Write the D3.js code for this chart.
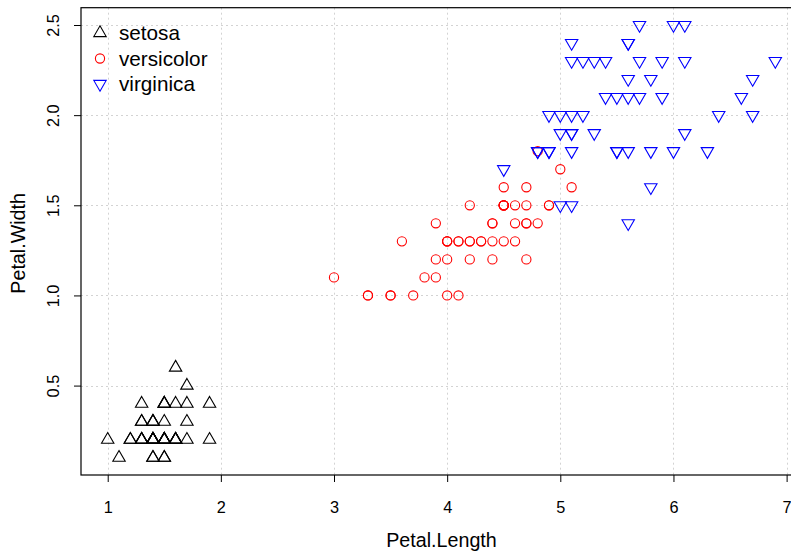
<!DOCTYPE html>
<html>
  <head>
    <style>
      html,
      body {
        margin: 0;
        padding: 0;
        background: #fff;
      }
      svg {
        display: block;
        font-family: 'Liberation Sans', Arial, Helvetica, sans-serif;
      }
    </style>
  </head>
  <body>
    <svg width="791" height="552"></svg>
    <script src="https://cdn.jsdelivr.net/npm/d3@7/dist/d3.min.js"></script>
    <script>
      // iris: Petal.Length / Petal.Width, per species
      const setosaLength = [1.4, 1.4, 1.3, 1.5, 1.4, 1.7, 1.4, 1.5, 1.4, 1.5, 1.5, 1.6, 1.4, 1.1, 1.2, 1.5, 1.3, 1.4, 1.7, 1.5, 1.7, 1.5, 1.0, 1.7, 1.9, 1.6, 1.6, 1.5, 1.4, 1.6, 1.6, 1.5, 1.5, 1.4, 1.5, 1.2, 1.3, 1.4, 1.3, 1.5, 1.3, 1.3, 1.3, 1.6, 1.9, 1.4, 1.6, 1.4, 1.5, 1.4];
      const setosaWidth = [0.2, 0.2, 0.2, 0.2, 0.2, 0.4, 0.3, 0.2, 0.2, 0.1, 0.2, 0.2, 0.1, 0.1, 0.2, 0.4, 0.4, 0.3, 0.3, 0.3, 0.2, 0.4, 0.2, 0.5, 0.2, 0.2, 0.4, 0.2, 0.2, 0.2, 0.2, 0.4, 0.1, 0.2, 0.2, 0.2, 0.2, 0.1, 0.2, 0.2, 0.3, 0.3, 0.2, 0.6, 0.4, 0.3, 0.2, 0.2, 0.2, 0.2];
      const versicolorLength = [4.7, 4.5, 4.9, 4.0, 4.6, 4.5, 4.7, 3.3, 4.6, 3.9, 3.5, 4.2, 4.0, 4.7, 3.6, 4.4, 4.5, 4.1, 4.5, 3.9, 4.8, 4.0, 4.9, 4.7, 4.3, 4.4, 4.8, 5.0, 4.5, 3.5, 3.8, 3.7, 3.9, 5.1, 4.5, 4.5, 4.7, 4.4, 4.1, 4.0, 4.4, 4.6, 4.0, 3.3, 4.2, 4.2, 4.2, 4.3, 3.0, 4.1];
      const versicolorWidth = [1.4, 1.5, 1.5, 1.3, 1.5, 1.3, 1.6, 1.0, 1.3, 1.4, 1.0, 1.5, 1.0, 1.4, 1.3, 1.4, 1.5, 1.0, 1.5, 1.1, 1.8, 1.3, 1.5, 1.2, 1.3, 1.4, 1.4, 1.7, 1.5, 1.0, 1.1, 1.0, 1.2, 1.6, 1.5, 1.6, 1.5, 1.3, 1.3, 1.3, 1.2, 1.4, 1.2, 1.0, 1.3, 1.2, 1.3, 1.3, 1.1, 1.3];
      const virginicaLength = [6.0, 5.1, 5.9, 5.6, 5.8, 6.6, 4.5, 6.3, 5.8, 6.1, 5.1, 5.3, 5.5, 5.0, 5.1, 5.3, 5.5, 6.7, 6.9, 5.0, 5.7, 4.9, 6.7, 4.9, 5.7, 6.0, 4.8, 4.9, 5.6, 5.8, 6.1, 6.4, 5.6, 5.1, 5.6, 6.1, 5.6, 5.5, 4.8, 5.4, 5.6, 5.1, 5.1, 5.9, 5.7, 5.2, 5.0, 5.2, 5.4, 5.1];
      const virginicaWidth = [2.5, 1.9, 2.1, 1.8, 2.2, 2.1, 1.7, 1.8, 1.8, 2.5, 2.0, 1.9, 2.1, 2.0, 2.4, 2.3, 1.8, 2.2, 2.3, 1.5, 2.3, 2.0, 2.0, 1.8, 2.1, 1.8, 1.8, 1.8, 2.1, 1.6, 1.9, 2.0, 2.2, 1.5, 1.4, 2.3, 2.4, 1.8, 1.8, 2.1, 2.4, 2.3, 1.9, 2.3, 2.5, 2.3, 1.9, 2.0, 2.3, 1.8];

      const speciesNames = ['setosa', 'versicolor', 'virginica'];
      const speciesColors = ['#000000', '#FF0000', '#0000FF'];
      const xTicks = [1, 2, 3, 4, 5, 6, 7];
      const yTicks = [0.5, 1.0, 1.5, 2.0, 2.5];

      const svg = d3.select('svg');

      const plotL = 81, plotR = 802, plotT = 7.7, plotB = 475;
      // R pads the data range by 4% on each side
      const x = d3.scaleLinear().domain([0.764, 7.136]).range([plotL, plotR]);
      const y = d3.scaleLinear().domain([0.004, 2.596]).range([plotB, plotT]);

      const series = [
        { lens: setosaLength, wids: setosaWidth },
        { lens: versicolorLength, wids: versicolorWidth },
        { lens: virginicaLength, wids: virginicaWidth },
      ];

      // grid
      const grid = svg.append('g')
        .attr('stroke', '#D3D3D3')
        .attr('stroke-dasharray', '2,3')
        .attr('stroke-width', 1);
      grid.selectAll('.gx').data(xTicks).join('line')
        .attr('x1', (d) => Math.round(x(d)) + 0.5).attr('x2', (d) => Math.round(x(d)) + 0.5)
        .attr('y1', plotT).attr('y2', plotB);
      grid.selectAll('.gy').data(yTicks).join('line')
        .attr('y1', (d) => Math.round(y(d)) + 0.5).attr('y2', (d) => Math.round(y(d)) + 0.5)
        .attr('x1', plotL).attr('x2', plotR);

      // axes
      const xAxis = svg.append('g')
        .attr('transform', `translate(0,${plotB})`)
        .call(d3.axisBottom(x).tickValues(xTicks).tickFormat(d3.format('d')).tickSize(7).tickPadding(19));
      const yAxis = svg.append('g')
        .attr('transform', `translate(${plotL},0)`)
        .call(d3.axisLeft(y).tickValues(yTicks).tickFormat(d3.format('.1f')).tickSize(7).tickPadding(9));
      [xAxis, yAxis].forEach((a) => {
        a.select('.domain').remove();
        a.selectAll('text').attr('font-size', 16.3).attr('fill', '#000')
          .attr('font-family', "'Liberation Sans', Arial, sans-serif");
        a.selectAll('line').attr('stroke', '#000');
      });
      yAxis.selectAll('.tick text')
        .attr('text-anchor', 'middle')
        .attr('x', null)
        .attr('dy', null)
        .attr('transform', 'translate(-22.5,0) rotate(-90)')
        .attr('y', 0);

      // box
      svg.append('rect')
        .attr('x', plotL).attr('y', plotT)
        .attr('width', plotR - plotL).attr('height', plotB - plotT)
        .attr('fill', 'none').attr('stroke', '#000').attr('stroke-width', 1.2);

      // R point shapes: pch 2, 1, 6
      const u = 4.6;
      const trc0 = 1.5551, trc1 = trc0 * Math.sqrt(3) / 2, trc2 = trc0 / 2;
      function symbol(sel, k) {
        if (k === 1) {
          return sel.append('circle').attr('r', u);
        }
        const s = k === 0 ? 1 : -1;
        const r = trc0 * u, xc = trc1 * u, yc = trc2 * u;
        return sel.append('path')
          .attr('d', `M0,${-s * r}L${xc},${s * yc}L${-xc},${s * yc}Z`);
      }

      const pts = svg.append('g');
      series.forEach((sp, k) => {
        sp.lens.forEach((len, i) => {
          const g = pts.append('g').attr('transform', `translate(${x(len)},${y(sp.wids[i])})`);
          symbol(g, k).attr('fill', 'none').attr('stroke', speciesColors[k]).attr('stroke-width', 1.1);
        });
      });

      // legend
      const legend = svg.append('g');
      speciesNames.forEach((name, k) => {
        const ly = 33 + k * 25.5;
        const g = legend.append('g').attr('transform', `translate(100,${ly})`);
        symbol(g, k).attr('fill', 'none').attr('stroke', speciesColors[k]).attr('stroke-width', 1.1);
        legend.append('text')
          .attr('x', 119).attr('y', ly).attr('dy', '0.35em')
          .attr('font-size', 20.7).text(name);
      });

      // axis titles
      svg.append('text')
        .attr('x', (plotL + plotR) / 2).attr('y', 547)
        .attr('text-anchor', 'middle').attr('font-size', 19.7).text('Petal.Length');
      svg.append('text')
        .attr('transform', `translate(25,${(plotT + plotB) / 2 + 2}) rotate(-90)`)
        .attr('text-anchor', 'middle').attr('font-size', 19.7).text('Petal.Width');
    </script>
  </body>
</html>
